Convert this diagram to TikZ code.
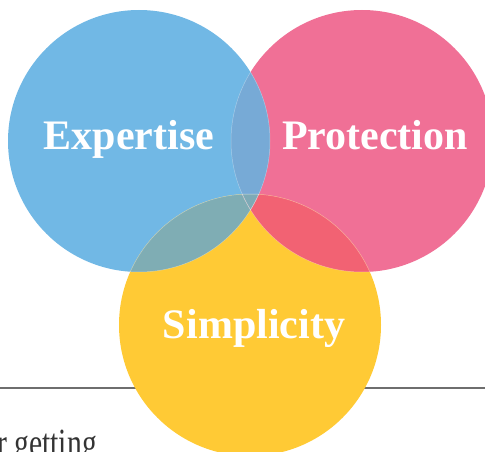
\documentclass[tikz,border=0pt]{standalone}
\usepackage{fontspec}
\setmainfont{Liberation Serif}
\definecolor{cblue}{HTML}{71B8E5}
\definecolor{cpink}{HTML}{F07096}
\definecolor{cyellow}{HTML}{FFCA35}
\definecolor{cbp}{HTML}{77AAD6}
\definecolor{cby}{HTML}{7FADB4}
\definecolor{cpy}{HTML}{F26273}
\definecolor{cbpy}{HTML}{7EAAB6}
\definecolor{crule}{HTML}{6E6E6E}
\definecolor{ctext}{HTML}{333333}
\tikzset{
  rule/.style={draw=crule, line width=2pt},
  rim/.style={draw=white, draw opacity=0.35, line width=0.5pt},
  title/.style={text=white, font=\fontsize{42}{48}\selectfont\bfseries, anchor=base, inner sep=0pt},
  bodytext/.style={text=ctext, font=\fontsize{40}{46}\selectfont, anchor=base east, inner sep=0pt}
}
\begin{document}
\begin{tikzpicture}[x=1pt,y=-1pt]
\useasboundingbox (0,0) rectangle (485,452);
\def\R{131pt}
\coordinate (B) at (139,141);
\coordinate (P) at (362,141);
\coordinate (Y) at (250,325);
\coordinate (L1) at (0,387.5);
\coordinate (L2) at (485,387.5);
\draw[rule] (L1) -- (L2);
\fill[cpink] (P) circle[radius=\R];
\fill[cblue] (B) circle[radius=\R];
\fill[cyellow] (Y) circle[radius=\R];
\begin{scope}\clip (B) circle[radius=\R]; \fill[cbp] (P) circle[radius=\R];\end{scope}
\begin{scope}\clip (B) circle[radius=\R]; \fill[cby] (Y) circle[radius=\R];\end{scope}
\begin{scope}\clip (P) circle[radius=\R]; \fill[cpy] (Y) circle[radius=\R];\end{scope}
\begin{scope}\clip (P) circle[radius=\R]; \clip (B) circle[radius=\R]; \fill[cbpy] (Y) circle[radius=\R];\end{scope}
\begin{scope}\clip (B) circle[radius=\R]; \path[rim] (P) circle[radius=\R]; \path[rim] (Y) circle[radius=\R];\end{scope}
\begin{scope}\clip (P) circle[radius=\R]; \path[rim] (B) circle[radius=\R]; \path[rim] (Y) circle[radius=\R];\end{scope}
\begin{scope}\clip (Y) circle[radius=\R]; \path[rim] (B) circle[radius=\R]; \path[rim] (P) circle[radius=\R];\end{scope}
\node[title] (exp) at (129,149) {Expertise};
\node[title] (pro) at (375,149) {Protection};
\node[title] (sim) at (254,338) {Simplicity};
\node[bodytext] (frag) at (97,456) {\scalebox{0.74}[1]{r getting}};
\end{tikzpicture}
\end{document}
